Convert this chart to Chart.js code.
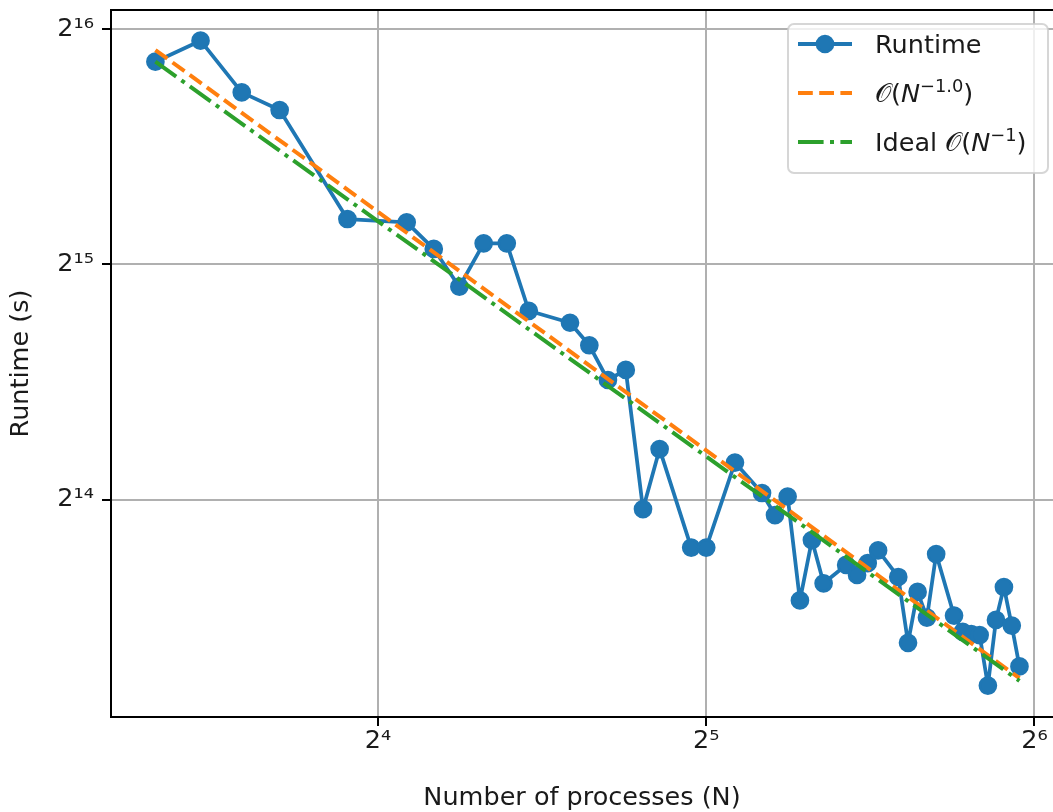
<!DOCTYPE html>
<html><head><meta charset="utf-8">
<script src="https://cdn.jsdelivr.net/npm/chart.js@4.4.1/dist/chart.umd.min.js"></script>
<style>html,body{margin:0;padding:0;background:#fff;overflow:hidden}canvas{display:block}</style>
</head><body>
<canvas id="c" width="1053" height="812"></canvas>
<script>
// ---- data ----
const processes = [10,11,12,13,15,17,18,19,20,21,22,24,25,26,27,28,29,31,32,34,36,37,38,39,40,41,43,44,45,46,48,49,50,51,52,54,55,56,57,58,59,60,61,62];
const runtimes  = [59520,63320,54380,51620,37440,37080,34280,30670,34850,34850,28570,27580,25810,23300,24000,15930,19010,14220,14220,18270,16700,15650,16530,12170,14540,12800,13510,13120,13580,14100,13040,10740,12480,11570,13950,11640,11090,11020,10990,9470,11490,12660,11300,10020];
const fitN = [10, 62];
const fitRuntime = [61600, 9680];
const idealN = [10, 62];
const idealRuntime = [59520, 9600];
const xTickValues = [16, 32, 64];
const xTickLabels = ['2\u2074', '2\u2075', '2\u2076'];
const yTickValues = [16384, 32768, 65536];
const yTickLabels = ['2\u00b9\u2074', '2\u00b9\u2075', '2\u00b9\u2076'];
const seriesLabels = ['Runtime', '\u{1D4AA}(N\u207B\u00B9\u00B7\u2070)', 'Ideal \u{1D4AA}(N\u207B\u00B9)'];
const xTitle = 'Number of processes (N)';
const yTitle = 'Runtime (s)';

const FONT = "'DejaVu Sans'";
const FS = 25.5;
const BLUE = '#1f77b4', ORANGE = '#ff7f0e', GREEN = '#2ca02c';

const pts = (xs, ys) => xs.map((x, i) => ({x, y: ys[i]}));

// rich legend segments (superscripts / italics)
const legendRich = [
  [{t: 'Runtime'}],
  [{t: '\u{1D4AA}'}, {t: '('}, {t: 'N', i: 1}, {t: '\u22121.0', s: 1}, {t: ')'}],
  [{t: 'Ideal '}, {t: '\u{1D4AA}'}, {t: '('}, {t: 'N', i: 1}, {t: '\u22121', s: 1}, {t: ')'}]
];

function drawRich(ctx, segs, x, y, size) {
  for (const s of segs) {
    const fs = s.s ? size * 0.7 : size;
    ctx.font = (s.i ? 'italic ' : '') + fs + 'px ' + FONT;
    const dy = s.s ? -size * 0.4 : 0;
    ctx.fillText(s.t, x, y + dy);
    x += ctx.measureText(s.t).width;
  }
}

const framePlugin = {
  id: 'framePlugin',
  afterDraw(chart) {
    const {ctx, chartArea: a} = chart;
    ctx.save();
    ctx.strokeStyle = '#000';
    ctx.lineWidth = 2;
    ctx.beginPath();
    ctx.moveTo(a.left - 1, a.top);
    ctx.lineTo(a.right, a.top);
    ctx.stroke();

    // legend
    const L = 788, T = 24, R = 1048, B = 173;
    ctx.beginPath();
    ctx.roundRect(L, T, R - L, B - T, 6);
    ctx.fillStyle = 'rgba(255,255,255,0.8)';
    ctx.fill();
    ctx.strokeStyle = 'rgba(204,204,204,0.8)';
    ctx.lineWidth = 2;
    ctx.stroke();

    const rows = [44, 93, 142];
    const hx0 = 798, hx1 = 852;
    const styles = [
      {c: BLUE, dash: []},
      {c: ORANGE, dash: [14.8, 6.4]},
      {c: GREEN, dash: [25.6, 6.4, 4, 6.4]}
    ];
    rows.forEach((ry, k) => {
      ctx.strokeStyle = styles[k].c;
      ctx.lineWidth = 4;
      ctx.setLineDash(styles[k].dash);
      ctx.beginPath();
      ctx.moveTo(hx0, ry);
      ctx.lineTo(hx1, ry);
      ctx.stroke();
      ctx.setLineDash([]);
      if (k === 0) {
        ctx.beginPath();
        ctx.arc((hx0 + hx1) / 2, ry, 8, 0, Math.PI * 2);
        ctx.fillStyle = BLUE;
        ctx.fill();
        ctx.lineWidth = 2.7;
        ctx.stroke();
      }
      ctx.fillStyle = '#1a1a1a';
      ctx.textBaseline = 'alphabetic';
      ctx.textAlign = 'left';
      drawRich(ctx, legendRich[k], 875, ry + 9, FS);
    });
    ctx.restore();
  }
};

new Chart(document.getElementById('c'), {
  type: 'line',
  data: {
    datasets: [
      {
        label: seriesLabels[2],
        data: pts(idealN, idealRuntime),
        borderColor: GREEN, borderWidth: 4,
        borderDash: [25.6, 6.4, 4, 6.4],
        pointRadius: 0, fill: false, order: 0
      },
      {
        label: seriesLabels[1],
        data: pts(fitN, fitRuntime),
        borderColor: ORANGE, borderWidth: 4,
        borderDash: [14.8, 6.4],
        pointRadius: 0, fill: false, order: 1
      },
      {
        label: seriesLabels[0],
        data: pts(processes, runtimes),
        borderColor: BLUE, backgroundColor: BLUE, borderWidth: 3.75,
        borderJoinStyle: 'round', borderCapStyle: 'round',
        pointRadius: 8, pointBorderWidth: 2.7,
        pointBackgroundColor: BLUE, pointBorderColor: BLUE,
        fill: false, order: 2
      }
    ]
  },
  options: {
    responsive: false,
    animation: false,
    devicePixelRatio: 1,
    layout: {autoPadding: false, padding: {top: 10, right: 0, left: 0, bottom: 0}},
    plugins: {legend: {display: false}, tooltip: {enabled: false}},
    elements: {line: {tension: 0}},
    scales: {
      x: {
        type: 'logarithmic',
        min: 9.105, max: 66.55,
        afterBuildTicks: s => { s.ticks = xTickValues.map(v => ({value: v})); },
        afterFit: s => { s.height = 95; s.paddingLeft = 0; s.paddingRight = 0; },
        grid: {color: '#b0b0b0', lineWidth: 2, tickColor: '#000', tickWidth: 2, tickLength: 9},
        border: {display: true, color: '#000', width: 2},
        ticks: {
          autoSkip: false, maxRotation: 0, padding: 3,
          color: '#1a1a1a',
          font: {family: FONT, size: FS, lineHeight: 1},
          callback: (v) => xTickLabels[xTickValues.indexOf(v)] ?? ''
        },
        title: {display: true, text: xTitle, color: '#1a1a1a',
          font: {family: FONT, size: FS, lineHeight: 1}, padding: {top: 0, bottom: 1}}
      },
      y: {
        type: 'logarithmic',
        min: 8632, max: 69312,
        afterBuildTicks: s => { s.ticks = yTickValues.map(v => ({value: v})); },
        afterFit: s => { s.width = 111; s.paddingTop = 0; s.paddingBottom = 0; },
        grid: {color: '#b0b0b0', lineWidth: 2, tickColor: '#000', tickWidth: 2, tickLength: 9},
        border: {display: true, color: '#000', width: 2},
        ticks: {
          autoSkip: false, padding: 8,
          color: '#1a1a1a',
          font: {family: FONT, size: FS, lineHeight: 1},
          callback: (v) => yTickLabels[yTickValues.indexOf(v)] ?? ''
        },
        title: {display: true, text: yTitle, color: '#1a1a1a',
          font: {family: FONT, size: FS, lineHeight: 1}, padding: {top: 9, bottom: 0}}
      }
    }
  },
  plugins: [framePlugin]
});
</script>
</body></html>
